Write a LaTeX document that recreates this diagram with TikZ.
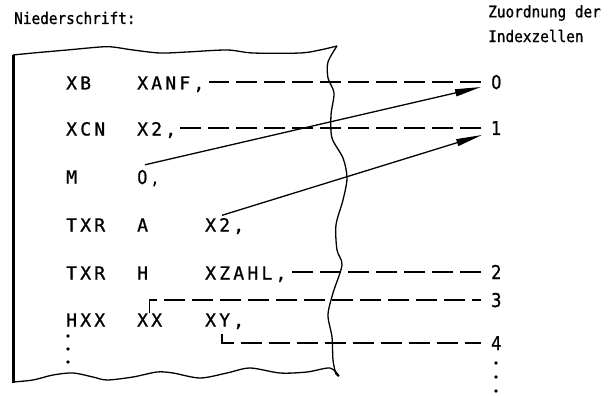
\documentclass[tikz,border=0pt]{standalone}
\usepackage{fontspec}
\newfontfamily\codefont[LetterSpace=18, FakeBold=1]{DejaVu Sans Mono}
\newfontfamily\headfont[FakeStretch=0.9, FakeBold=1]{DejaVu Sans Mono}
\newfontfamily\digitfont[LetterSpace=25, FakeStretch=0.85, FakeBold=1]{DejaVu Sans}
\usetikzlibrary{arrows.meta, positioning, calc}

\begin{document}
\begin{tikzpicture}[
  x=1pt, y=-1pt,
  head/.style={anchor=west, inner sep=0pt, font=\headfont\fontsize{16}{18}\selectfont},
  code/.style={anchor=west, inner sep=0pt, text height=13pt, text depth=0pt, font=\codefont\fontsize{18}{20}\selectfont},
  digit/.style={code, text height=14pt, font=\digitfont\fontsize{19}{21}\selectfont},
  sheet/.style={line width=1.3pt, line join=round},
  link/.style={line width=1.4pt, dash pattern=on 21pt off 7pt},
  arr/.style={-{Triangle[length=26pt, width=7pt]}, line width=1.3pt}
]
\useasboundingbox (0,0) rectangle (611,396);
\node[head] (title) at (14,18) {Niederschrift:};
\node[head] (zuord) at (488,13) {Zuordnung der};
\node[head] (zellen) at (488,36) {Indexzellen};

\draw[sheet] plot[smooth] coordinates {(13,55) (33,53) (67,50) (100,47) (113,47) (133,50) (160,53) (187,52) (227,50) (253,53) (300,53) (320,50) (337,46)};
\draw[sheet] plot[smooth] coordinates {(337,46) (328,62) (328,78) (334,93) (331,115) (332,138) (343,158) (347,178) (343,200) (336,225) (337,250) (342,265) (333,293) (328,315) (332,337) (333,360) (336,374) (339,376)};
\draw[sheet] plot[smooth] coordinates {(13,382) (33,380) (53,375) (73,373) (93,377) (107,380) (133,377) (157,372) (173,373) (200,378) (227,373) (250,368) (280,373) (307,372) (330,368) (339,376)};
\draw[line width=3pt] (13,55) -- (13,383);

\node[code] (xb) at (66,83) {XB};
\node[code] (xanf) at (137,83) {XANF,};
\node[code] (xcn) at (66,129) {XCN};
\node[code] (xzwei) at (137,129) {X2,};
\node[code] (m) at (66,177) {M};
\node[digit] (null) at (137,177) {0,};
\node[code] (txra) at (66,225) {TXR};
\node[code] (a) at (137,225) {A};
\node[code] (xzweib) at (205,225) {X2,};
\node[code] (txrh) at (66,273) {TXR};
\node[code] (h) at (137,273) {H};
\node[code] (xzahl) at (205,273) {XZAHL,};
\node[code] (hxx) at (66,320) {HXX};
\node[code] (xx) at (137,320) {XX};
\node[code] (xy) at (205,320) {XY,};
\coordinate (ytop) at ($(xy.south west)+(17,7)$);

\node[digit] (n0) at (491,82) {0};
\node[digit] (n1) at (491,128) {1};
\node[digit] (n2) at (491,272) {2};
\node[digit] (n3) at (491,300) {3};
\node[digit] (n4) at (491,343) {4};

\foreach \y in {336,349,362} \fill (68,\y) circle (1.8pt);
\foreach \y in {363,377,391} \fill (496,\y) circle (1.8pt);

\draw[link, shorten <=10pt, shorten >=4pt] (n0.west) -- (n0.west -| xanf.east);
\draw[link, shorten <=10pt, shorten >=4pt] (n1.west) -- (n1.west -| xzwei.east);
\draw[link, shorten <=10pt, shorten >=4pt] (n2.west) -- (n2.west -| xzahl.east);
\draw[link, shorten >=10pt] (xx.north) -- (xx.north |- n3.west) -- (n3.west);
\draw[link, shorten >=10pt] (ytop) -- (ytop |- n4.west) -- (n4.west);
\draw[arr] ($(null.north west)+(8,-5)$) -- ($(n0.west)+(-10,5)$);
\draw[arr] ($(xzweib.north west)+(17,-3)$) -- ($(n1.west)+(-9,7)$);
\end{tikzpicture}
\end{document}
